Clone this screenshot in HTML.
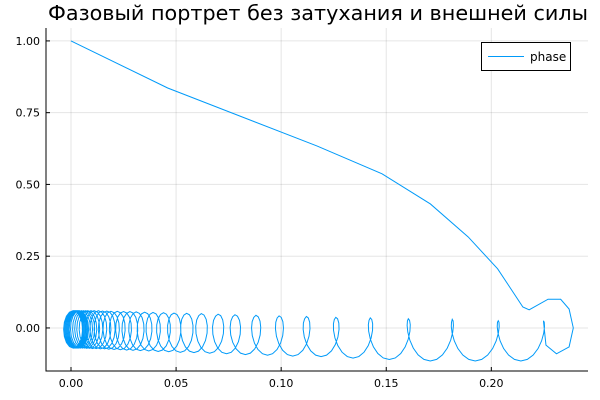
<!DOCTYPE html>
<html><head><meta charset="utf-8"><style>
body{margin:0;background:#fff}
svg{display:block;font-family:"DejaVu Sans","Liberation Sans",sans-serif}
</style></head><body>
<svg id="chart" width="600" height="400">
<text x="318" y="20" text-anchor="middle" font-size="20" textLength="540" lengthAdjust="spacingAndGlyphs" fill="#000">Фазовый портрет без затухания и внешней силы</text>
<g id="grid"></g>
<g id="axes"></g>
<path id="series" fill="none" stroke="#009af9" stroke-width="1"/>
<g>
<rect x="481.5" y="42.5" width="89" height="28" fill="#fff" stroke="#000"/>
<line x1="488" y1="56.5" x2="524" y2="56.5" stroke="#009af9"/>
<text x="530" y="61" font-size="12">phase</text>
</g>
</svg>
<script>
const xTicks=[0,0.05,0.1,0.15,0.2];
const xTickLabels=["0.00","0.05","0.10","0.15","0.20"];
const yTicks=[0,0.25,0.5,0.75,1.0];
const yTickLabels=["0.00","0.25","0.50","0.75","1.00"];
const descentX=[0,0.046,0.117,0.148,0.171,0.189,0.203,0.215,0.218,0.227,0.233,0.237,0.239,0.237,0.231,0.226];
const descentY=[1.0,0.836,0.634,0.537,0.432,0.317,0.206,0.073,0.063,0.10,0.10,0.066,0.0,-0.066,-0.09,-0.06];
const loopX=[0.2248,0.2033,0.1814,0.1605,0.1424,0.126,0.112,0.099,0.088,0.078,0.070,0.062,0.055,0.049,0.044,0.039,0.035,0.031,0.028,0.025,0.022,0.019,0.017,0.015,0.013,0.011,0.0095,0.008,0.007,0.006,0.005,0.004,0.0035,0.003,0.0025,0.002,0.0015,0.001];
const loopTop=[0.025,0.025,0.03,0.032,0.035,0.037,0.04,0.042,0.044,0.046,0.048,0.05,0.051,0.052,0.053,0.054,0.055,0.056,0.057,0.057,0.058,0.058,0.059,0.059,0.06,0.06,0.06,0.06,0.06,0.06,0.06,0.06,0.06,0.06,0.06,0.06,0.06,0.06];
const loopBottom=[-0.115,-0.115,-0.115,-0.11,-0.105,-0.10,-0.098,-0.095,-0.093,-0.09,-0.088,-0.086,-0.085,-0.083,-0.082,-0.08,-0.079,-0.078,-0.077,-0.076,-0.075,-0.074,-0.073,-0.073,-0.072,-0.072,-0.071,-0.071,-0.07,-0.07,-0.07,-0.07,-0.07,-0.07,-0.07,-0.07,-0.07,-0.07];
const loopHalfWidth=0.0045;
const X0=-0.0119,X1=0.246,Y0=-0.15,Y1=1.045,L=46,R=588,T=28,B=371;
function sx(v){return L+(v-X0)/(X1-X0)*(R-L);}
function sy(v){return B-(v-Y0)/(Y1-Y0)*(B-T);}
const NS="http://www.w3.org/2000/svg";
const grid=document.getElementById('grid'),axes=document.getElementById('axes');
function mk(tag,attrs,parent){const e=document.createElementNS(NS,tag);for(const k in attrs)e.setAttribute(k,attrs[k]);parent.appendChild(e);return e;}
xTicks.forEach((t,i)=>{const x=sx(t);
const g=mk('line',{x1:x,y1:T,x2:x,y2:B,stroke:'#000','stroke-opacity':0.1},grid);


const tk=mk('line',{x1:x,y1:B,x2:x,y2:B-4,stroke:'#000'},axes);


const lb=mk('text',{x:x,y:B+16,'text-anchor':'middle','font-size':11},axes);lb.textContent=xTickLabels[i];

});
yTicks.forEach((t,i)=>{const y=sy(t);
const g=mk('line',{x1:L,y1:y,x2:R,y2:y,stroke:'#000','stroke-opacity':0.1},grid);


const tk=mk('line',{x1:L,y1:y,x2:L+4,y2:y,stroke:'#000'},axes);


const lb=mk('text',{x:L-6,y:y+4,'text-anchor':'end','font-size':11},axes);lb.textContent=yTickLabels[i];

});
const ax=mk('path',{d:`M${L},${T}V${B}H${R}`,fill:'none',stroke:'#000'},axes);


let pts=descentX.map((x,i)=>[x,descentY[i]]);
for(let i=0;i<loopX.length-1;i++){
  const m=(loopTop[i]+loopBottom[i])/2,a=(loopTop[i]-loopBottom[i])/2;
  for(let k=0;k<16;k++){const th=k/16*2*Math.PI;
    pts.push([loopX[i]+(loopX[i+1]-loopX[i])*k/16+loopHalfWidth*Math.sin(th),m+a*Math.cos(th)]);}
}
const n=loopX.length-1;const mN=(loopTop[n]+loopBottom[n])/2,aN=(loopTop[n]-loopBottom[n])/2;
for(let k=0;k<=16;k++){const th=k/16*2*Math.PI;pts.push([loopX[n]+loopHalfWidth*Math.sin(th),mN+aN*Math.cos(th)]);}
document.getElementById('series').setAttribute('d',pts.map((p,i)=>(i?'L':'M')+sx(p[0]).toFixed(2)+','+sy(p[1]).toFixed(2)).join(''));
</script>
</body></html>
